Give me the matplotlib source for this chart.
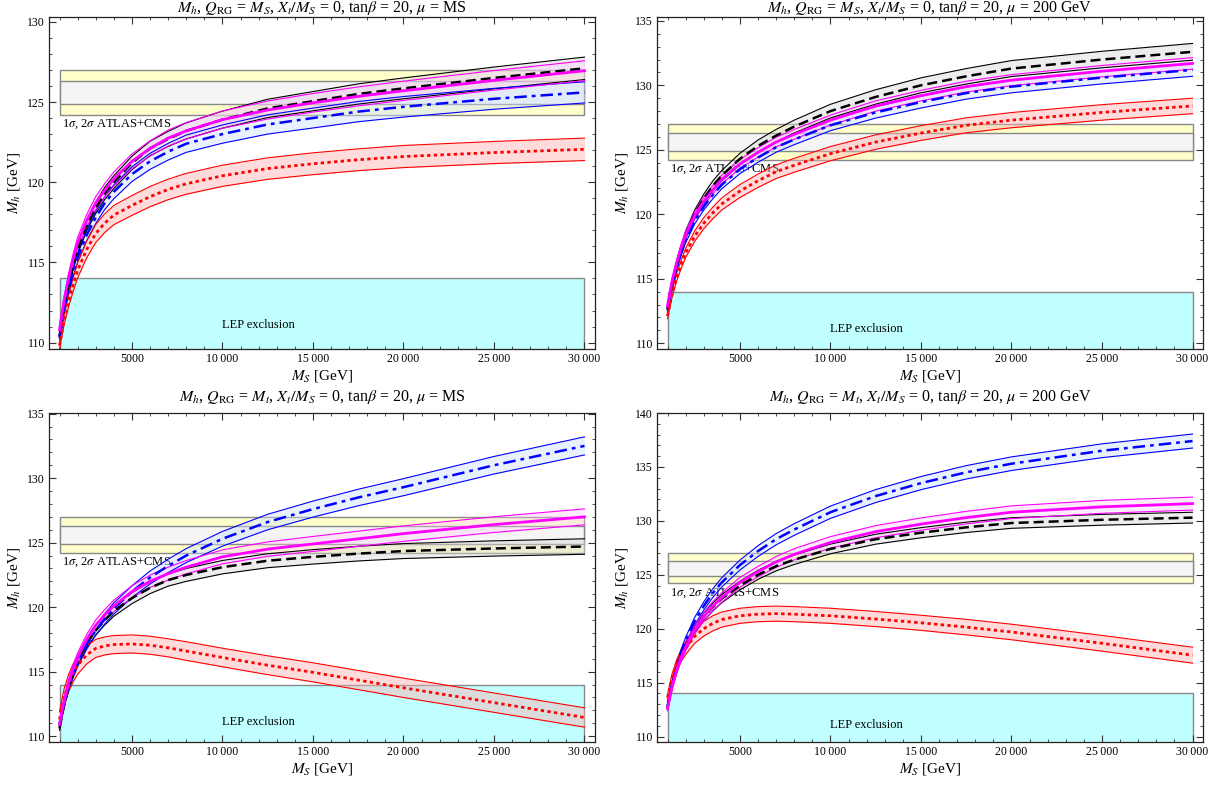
import numpy as np
import matplotlib
matplotlib.use("Agg")
import matplotlib.pyplot as plt
from matplotlib.ticker import MultipleLocator, FuncFormatter
from matplotlib.patches import Rectangle

plt.rcParams['font.family'] = ['Liberation Serif', 'DejaVu Serif']
plt.rcParams['mathtext.fontset'] = 'stix'

# M_S grid [GeV]
ms = [1000, 1250, 1500, 1750, 2000, 2500, 3000, 3500, 4000, 5000,
      6000, 7000, 8000, 10000, 12500, 15000, 17500, 20000, 25000, 30000]

# panel 1: Q_RG = M_S, mu = MS   (central value, half width of band)
p1_black = [110.4, 112.2, 113.6, 114.8, 115.8, 117.3, 118.4, 119.3, 120.0, 121.2,
            122.1, 122.7, 123.2, 123.9, 124.6, 125.05, 125.5, 125.85, 126.5, 127.1]
p1_black_w = [0.15, 0.2, 0.25, 0.28, 0.3, 0.33, 0.36, 0.38, 0.4, 0.42,
              0.45, 0.47, 0.5, 0.53, 0.57, 0.6, 0.63, 0.65, 0.68, 0.7]
p1_mag = [110.8, 112.6, 114.0, 115.2, 116.2, 117.6, 118.7, 119.5, 120.2, 121.3,
          122.1, 122.75, 123.2, 123.9, 124.5, 124.95, 125.35, 125.7, 126.35, 126.95]
p1_mag_w = [0.2, 0.25, 0.3, 0.32, 0.35, 0.38, 0.4, 0.42, 0.44, 0.46,
            0.48, 0.5, 0.52, 0.54, 0.56, 0.58, 0.59, 0.6, 0.61, 0.62]
p1_blue = [110.3, 112.0, 113.3, 114.4, 115.3, 116.7, 117.8, 118.7, 119.4, 120.5,
           121.3, 121.9, 122.4, 123.0, 123.6, 124.0, 124.4, 124.7, 125.2, 125.6]
p1_blue_w = [0.15, 0.2, 0.25, 0.28, 0.3, 0.35, 0.38, 0.4, 0.43, 0.46,
             0.5, 0.52, 0.54, 0.57, 0.6, 0.62, 0.63, 0.64, 0.65, 0.66]
p1_red = [109.8, 111.4, 112.6, 113.6, 114.5, 115.8, 116.8, 117.45, 117.95, 118.55,
          119.1, 119.55, 119.9, 120.4, 120.85, 121.15, 121.4, 121.6, 121.85, 122.05]
p1_red_w = [0.2, 0.3, 0.38, 0.43, 0.47, 0.52, 0.56, 0.58, 0.6, 0.62,
            0.63, 0.64, 0.65, 0.66, 0.67, 0.68, 0.68, 0.69, 0.69, 0.7]

# panel 2: Q_RG = M_S, mu = 200 GeV
p2_black = [112.6, 114.6, 116.1, 117.3, 118.4, 120.0, 121.2, 122.2, 123.0, 124.3,
            125.3, 126.1, 126.8, 128.0, 129.1, 130.0, 130.7, 131.3, 132.0, 132.6]
p2_black_w = [0.15, 0.2, 0.25, 0.28, 0.3, 0.33, 0.36, 0.38, 0.4, 0.43,
              0.46, 0.48, 0.5, 0.53, 0.56, 0.58, 0.6, 0.62, 0.64, 0.65]
p2_mag = [112.9, 114.8, 116.2, 117.4, 118.4, 119.9, 121.0, 121.9, 122.7, 123.9,
          124.8, 125.6, 126.2, 127.3, 128.4, 129.2, 129.9, 130.4, 131.1, 131.7]
p2_mag_w = [0.15, 0.2, 0.22, 0.25, 0.27, 0.3, 0.32, 0.33, 0.34, 0.35,
            0.36, 0.37, 0.38, 0.39, 0.4, 0.41, 0.42, 0.43, 0.44, 0.45]
p2_blue = [112.6, 114.4, 115.8, 117.0, 118.0, 119.5, 120.6, 121.5, 122.3, 123.5,
           124.4, 125.2, 125.8, 126.9, 127.9, 128.7, 129.4, 129.9, 130.6, 131.2]
p2_blue_w = [0.12, 0.15, 0.18, 0.2, 0.22, 0.25, 0.28, 0.3, 0.32, 0.35,
             0.37, 0.39, 0.4, 0.42, 0.44, 0.46, 0.47, 0.48, 0.49, 0.5]
p2_red = [112.1, 113.8, 115.1, 116.1, 117.0, 118.3, 119.3, 120.1, 120.8, 121.8,
          122.6, 123.3, 123.8, 124.7, 125.6, 126.3, 126.9, 127.3, 127.9, 128.4]
p2_red_w = [0.2, 0.25, 0.3, 0.33, 0.36, 0.4, 0.43, 0.45, 0.47, 0.5,
            0.52, 0.53, 0.54, 0.55, 0.56, 0.57, 0.58, 0.59, 0.6, 0.6]

# panel 3: Q_RG = M_t, mu = MS
p3_black = [110.6, 112.4, 113.8, 114.9, 115.8, 117.2, 118.2, 119.0, 119.7, 120.7,
            121.5, 122.1, 122.5, 123.1, 123.6, 123.9, 124.15, 124.35, 124.55, 124.7]
p3_black_w = [0.15, 0.2, 0.25, 0.28, 0.3, 0.33, 0.36, 0.38, 0.4, 0.43,
              0.45, 0.47, 0.5, 0.52, 0.54, 0.56, 0.57, 0.58, 0.59, 0.6]
p3_mag = [110.9, 112.7, 114.1, 115.2, 116.1, 117.5, 118.6, 119.4, 120.1, 121.2,
          122.0, 122.6, 123.1, 123.9, 124.5, 124.9, 125.3, 125.7, 126.4, 127.0]
p3_mag_w = [0.2, 0.25, 0.3, 0.32, 0.35, 0.38, 0.4, 0.42, 0.44, 0.46,
            0.48, 0.5, 0.52, 0.54, 0.56, 0.58, 0.59, 0.6, 0.61, 0.62]
p3_blue = [110.9, 112.5, 113.8, 114.8, 115.7, 117.1, 118.2, 119.1, 119.9, 121.2,
           122.3, 123.2, 124.0, 125.3, 126.6, 127.6, 128.5, 129.3, 131.0, 132.5]
p3_blue_w = [0.15, 0.2, 0.25, 0.28, 0.3, 0.35, 0.38, 0.4, 0.43, 0.46,
             0.5, 0.52, 0.54, 0.57, 0.6, 0.62, 0.64, 0.66, 0.68, 0.7]
p3_red = [111.3, 113.0, 114.1, 114.9, 115.5, 116.3, 116.8, 117.0, 117.1, 117.15,
          117.05, 116.85, 116.6, 116.1, 115.5, 114.95, 114.35, 113.75, 112.6, 111.45]
p3_red_w = [0.6, 0.65, 0.68, 0.7, 0.7, 0.7, 0.7, 0.7, 0.7, 0.7,
            0.7, 0.7, 0.72, 0.72, 0.73, 0.74, 0.74, 0.75, 0.75, 0.75]

# panel 4: Q_RG = M_t, mu = 200 GeV
p4_black = [112.7, 114.7, 116.2, 117.4, 118.4, 119.9, 121.1, 122.0, 122.8, 124.0,
            125.0, 125.8, 126.4, 127.4, 128.3, 128.9, 129.4, 129.8, 130.1, 130.3]
p4_black_w = [0.15, 0.2, 0.25, 0.28, 0.3, 0.33, 0.35, 0.37, 0.38, 0.4,
              0.42, 0.43, 0.44, 0.45, 0.46, 0.47, 0.48, 0.49, 0.5, 0.5]
p4_mag = [112.6, 114.6, 116.1, 117.3, 118.3, 119.9, 121.1, 122.1, 122.9, 124.3,
          125.3, 126.2, 126.9, 128.0, 129.0, 129.7, 130.3, 130.8, 131.3, 131.6]
p4_mag_w = [0.2, 0.25, 0.3, 0.32, 0.35, 0.38, 0.4, 0.42, 0.44, 0.46,
            0.48, 0.5, 0.52, 0.54, 0.56, 0.57, 0.58, 0.59, 0.6, 0.6]
p4_blue = [112.8, 114.9, 116.5, 117.8, 118.9, 120.7, 122.1, 123.3, 124.3, 125.9,
           127.2, 128.3, 129.2, 130.8, 132.3, 133.5, 134.5, 135.3, 136.5, 137.4]
p4_blue_w = [0.15, 0.2, 0.25, 0.28, 0.3, 0.35, 0.38, 0.4, 0.43, 0.46,
             0.5, 0.52, 0.54, 0.57, 0.6, 0.61, 0.62, 0.63, 0.64, 0.65]
p4_red = [113.6, 115.4, 116.6, 117.5, 118.2, 119.3, 120.0, 120.5, 120.85, 121.2,
          121.35, 121.4, 121.35, 121.2, 120.9, 120.55, 120.15, 119.7, 118.65, 117.55]
p4_red_w = [0.3, 0.4, 0.5, 0.55, 0.6, 0.65, 0.68, 0.7, 0.7, 0.7,
            0.7, 0.7, 0.7, 0.7, 0.7, 0.7, 0.72, 0.72, 0.73, 0.74]

titles = [r"$M_h$, $Q_{\rm RG}$ = $M_S$, $X_t/M_S$ = 0, tan$\beta$ = 20, $\mu$ = MS",
          r"$M_h$, $Q_{\rm RG}$ = $M_S$, $X_t/M_S$ = 0, tan$\beta$ = 20, $\mu$ = 200 GeV",
          r"$M_h$, $Q_{\rm RG}$ = $M_t$, $X_t/M_S$ = 0, tan$\beta$ = 20, $\mu$ = MS",
          r"$M_h$, $Q_{\rm RG}$ = $M_t$, $X_t/M_S$ = 0, tan$\beta$ = 20, $\mu$ = 200 GeV"]
ylims = [(109.6, 130.3), (109.55, 135.3), (109.55, 135.05), (109.5, 140.0)]

# higgs mass bands and LEP bound
h2 = (124.2, 127.0)
h1 = (124.9, 126.3)
lep = 114.0

panels = [
    (p1_black, p1_black_w, p1_mag, p1_mag_w, p1_blue, p1_blue_w, p1_red, p1_red_w),
    (p2_black, p2_black_w, p2_mag, p2_mag_w, p2_blue, p2_blue_w, p2_red, p2_red_w),
    (p3_black, p3_black_w, p3_mag, p3_mag_w, p3_blue, p3_blue_w, p3_red, p3_red_w),
    (p4_black, p4_black_w, p4_mag, p4_mag_w, p4_blue, p4_blue_w, p4_red, p4_red_w),
]

W, H = 1216, 786
boxes = [(49, 17, 595, 349), (657, 17, 1203, 349),
         (49, 413, 595, 742), (657, 413, 1203, 742)]

fig = plt.figure(figsize=(W / 100, H / 100), dpi=100)


def band(ax, c, w, col, fill, alpha, ls, lw):
    c = np.array(c)
    w = np.array(w)
    ax.fill_between(ms, c - w, c + w, color=fill, alpha=alpha, lw=0, zorder=3)
    ax.plot(ms, c + w, color=col, lw=0.8, zorder=4)
    ax.plot(ms, c - w, color=col, lw=0.8, zorder=4)
    ax.plot(ms, c, color=col, ls=ls, lw=lw, zorder=5)


def kfmt(v, pos):
    v = int(round(v))
    if v >= 10000:
        return "%d\u2009%03d" % (v // 1000, v % 1000)
    return "%d" % v


for i, (x0, y0, x1, y1) in enumerate(boxes):
    ax = fig.add_axes([x0 / W, 1 - y1 / H, (x1 - x0) / W, (y1 - y0) / H])
    ax.set_xlim(420, 30580)
    ax.set_ylim(*ylims[i])
    bl, blw, mg, mgw, bu, buw, rd, rdw = panels[i]

    # LEP exclusion
    ax.add_patch(Rectangle((1000, ylims[i][0] - 1), 29000, lep - ylims[i][0] + 1,
                           facecolor='#c0ffff', edgecolor='#888888', lw=1.0, zorder=1))
    ax.text(12000, 111.1, "LEP exclusion", fontsize=9, ha='center', va='center', zorder=2)
    # ATLAS+CMS bands
    ax.add_patch(Rectangle((1000, h2[0]), 29000, h2[1] - h2[0],
                           facecolor='#ffffcc', edgecolor='#888888', lw=1.0, zorder=1))
    ax.add_patch(Rectangle((1000, h1[0]), 29000, h1[1] - h1[0],
                           facecolor='#f5f5f5', edgecolor='#888888', lw=1.0, zorder=1))
    ax.annotate(r"1$\sigma$, 2$\sigma$ ATLAS+CMS", (1000, h2[0]), xytext=(2, -2),
                textcoords='offset points', fontsize=9, ha='left', va='top', zorder=2)

    band(ax, bl, blw, 'black', '#d8d8d8', 0.45, (0, (4, 2)), 1.8)
    band(ax, bu, buw, 'blue', '#cfe0ff', 0.45, (0, (5, 2, 1.5, 2)), 1.8)
    band(ax, rd, rdw, 'red', '#ffb0b0', 0.45, (0, (1.2, 1.2)), 2.0)
    band(ax, mg, mgw, 'magenta', '#ffc8ff', 0.35, '-', 2.0)

    ax.xaxis.set_major_locator(MultipleLocator(5000))
    ax.xaxis.set_minor_locator(MultipleLocator(1000))
    ax.xaxis.set_major_formatter(FuncFormatter(kfmt))
    ax.yaxis.set_major_locator(MultipleLocator(5))
    ax.yaxis.set_minor_locator(MultipleLocator(1))
    ax.tick_params(which='both', direction='in', top=True, right=True,
                   labelsize=8.5, color='#333333', pad=3)
    ax.tick_params(which='major', length=5, width=0.8)
    ax.tick_params(which='minor', length=2.5, width=0.6)
    for s in ax.spines.values():
        s.set_color('#222222')
        s.set_linewidth(0.9)
    ax.set_xlabel(r"$M_S$ [GeV]", fontsize=11, labelpad=2)
    ax.set_ylabel(r"$M_h$ [GeV]", fontsize=11, labelpad=4)

    cx = (x0 + x1) / 2 / W
    ty = 8 if i < 2 else 397
    fig.text(cx, 1 - ty / H, titles[i], fontsize=11.5, ha='center', va='center')

fig.savefig("out.png", dpi=100)
